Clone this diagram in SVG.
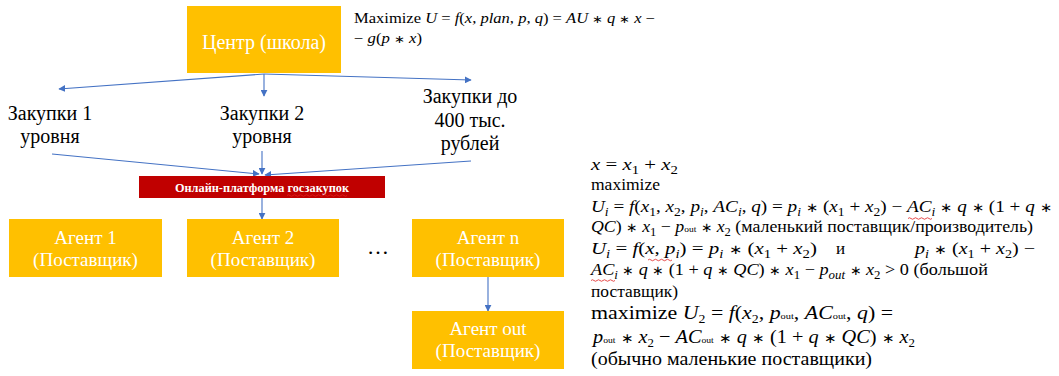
<svg xmlns="http://www.w3.org/2000/svg" width="1059" height="376" viewBox="0 0 1059 376" font-family="Liberation Serif, Times New Roman, serif">
<style>
text{font-family:'Liberation Serif','Times New Roman',serif}
.box{fill:#FFC000}
.bt{font-size:19px;fill:#fff;text-anchor:middle}
.lbl{font-size:20px;fill:#000;text-anchor:middle}
.m{font-size:17px;fill:#000}
.i{font-style:italic}
.s{font-size:12px}
.t{font-size:9px}
.a{font-size:0.75em}
.c{stroke:#4472C4;stroke-width:1.1;fill:none;marker-end:url(#ah)}
.w{stroke:#E02020;stroke-width:0.8;fill:none}
</style>
<defs>
<marker id="ah" viewBox="0 0 10 10" refX="9" refY="5" markerWidth="7" markerHeight="7" markerUnits="userSpaceOnUse" orient="auto">
<path d="M0,0 L10,5 L0,10 z" fill="#4472C4"/>
</marker>
</defs>

<g id="connectors">
<line class="c" x1="264" y1="74" x2="59" y2="89"/>
<line class="c" x1="264" y1="74" x2="264" y2="96"/>
<line class="c" x1="264" y1="74" x2="471" y2="80"/>
<line class="c" x1="52" y1="154" x2="259" y2="174"/>
<line class="c" x1="262" y1="151" x2="262" y2="174"/>
<line class="c" x1="471" y1="161" x2="265" y2="175"/>
<line class="c" x1="262" y1="198" x2="262" y2="219"/>
<line class="c" x1="488" y1="277" x2="488" y2="311"/>
</g>

<g id="center">
<rect class="box" x="187" y="6" width="154" height="67"/>
<text class="bt" x="264" y="49" style="font-size:20px">Центр (школа)</text>
</g>

<g id="formula-top">
<text class="m" x="354" y="23" style="font-size:14px" textLength="301" lengthAdjust="spacingAndGlyphs">Maximize <tspan class="i">U</tspan> = <tspan class="i">f</tspan>(<tspan class="i">x</tspan>, <tspan class="i">plan</tspan>, <tspan class="i">p</tspan>, <tspan class="i">q</tspan>) =  <tspan class="i">AU</tspan> <tspan class="a">∗</tspan> <tspan class="i">q</tspan> <tspan class="a">∗</tspan> <tspan class="i">x</tspan> −</text>
<text class="m" x="354" y="43" style="font-size:14px" textLength="68" lengthAdjust="spacingAndGlyphs">− <tspan class="i">g</tspan>(<tspan class="i">p</tspan> <tspan class="a">∗</tspan> <tspan class="i">x</tspan>)</text>
</g>

<g id="zakupki1">
<text class="lbl" x="50" y="120">Закупки 1</text>
<text class="lbl" x="50" y="143">уровня</text>
</g>
<g id="zakupki2">
<text class="lbl" x="262" y="120">Закупки 2</text>
<text class="lbl" x="262" y="143">уровня</text>
</g>
<g id="zakupki400">
<text class="lbl" x="470" y="103">Закупки до</text>
<text class="lbl" x="470" y="127">400 тыс.</text>
<text class="lbl" x="470" y="150">рублей</text>
</g>

<g id="platform">
<rect x="139" y="176" width="246" height="22" fill="#C00000"/>
<text x="262" y="192" font-size="12" font-weight="bold" fill="#fff" text-anchor="middle" textLength="174" lengthAdjust="spacingAndGlyphs">Онлайн-платформа госзакупок</text>
<path class="w" d="M287,195.5 q1.5,-1.5 3,0 t3,0 t3,0 t3,0 t3,0 t3,0 t3,0 t3,0 t3,0 t3,0 t3,0 t3,0 t3,0 t3,0 t3,0 t3,0 t3,0 t3,0 t3,0 t3,0"/>
</g>

<g id="agent1">
<rect class="box" x="9" y="219" width="153" height="58"/>
<text class="bt" x="85.5" y="244">Агент 1</text>
<text class="bt" x="85.5" y="266">(Поставщик)</text>
</g>
<g id="agent2">
<rect class="box" x="187" y="219" width="152" height="58"/>
<text class="bt" x="263" y="244">Агент 2</text>
<text class="bt" x="263" y="266">(Поставщик)</text>
</g>
<g id="dots">
<text x="367" y="254" font-size="22" fill="#000" textLength="25" lengthAdjust="spacing">…</text>
</g>
<g id="agentn">
<rect class="box" x="412" y="219" width="152" height="58"/>
<text class="bt" x="488" y="244">Агент n</text>
<text class="bt" x="488" y="266">(Поставщик)</text>
</g>
<g id="agentout">
<rect class="box" x="412" y="311" width="152" height="58"/>
<text class="bt" x="488" y="335">Агент out</text>
<text class="bt" x="488" y="357">(Поставщик)</text>
</g>

<g id="formulas-right">
<text class="m" x="591" y="170" textLength="87" lengthAdjust="spacingAndGlyphs"><tspan class="i">x</tspan> = <tspan class="i">x</tspan><tspan class="s" dy="4">1</tspan><tspan dy="-4"> + </tspan><tspan class="i">x</tspan><tspan class="s" dy="4">2</tspan></text>
<text class="m" x="591" y="190" textLength="69" lengthAdjust="spacingAndGlyphs">maximize</text>
<text class="m" x="591" y="212" textLength="461" lengthAdjust="spacingAndGlyphs"><tspan class="i">U</tspan><tspan class="s i" dy="4">i</tspan><tspan dy="-4"> = </tspan><tspan class="i">f</tspan>(<tspan class="i">x</tspan><tspan class="s" dy="4">1</tspan><tspan dy="-4">, </tspan><tspan class="i">x</tspan><tspan class="s" dy="4">2</tspan><tspan dy="-4">, </tspan><tspan class="i">p</tspan><tspan class="s i" dy="4">i</tspan><tspan dy="-4">, </tspan><tspan class="i">AC</tspan><tspan class="s i" dy="4">i</tspan><tspan dy="-4">, </tspan><tspan class="i">q</tspan>) =  <tspan class="i">p</tspan><tspan class="s i" dy="4">i</tspan><tspan dy="-4"> </tspan><tspan class="a">∗</tspan> (<tspan class="i">x</tspan><tspan class="s" dy="4">1</tspan><tspan dy="-4"> + </tspan><tspan class="i">x</tspan><tspan class="s" dy="4">2</tspan><tspan dy="-4">) − </tspan><tspan class="i">AC</tspan><tspan class="s i" dy="4">i</tspan><tspan dy="-4"> </tspan><tspan class="a">∗</tspan> <tspan class="i">q</tspan> <tspan class="a">∗</tspan> (1 + <tspan class="i">q</tspan> <tspan class="a">∗</tspan></text>
<path class="w" d="M908,218.5 q1.5,-1.5 3,0 t3,0 t3,0 t3,0 t3,0 t3,0 t3,0 t3,0"/>
<text class="m" x="591" y="232" textLength="442" lengthAdjust="spacingAndGlyphs"><tspan class="i">QC</tspan>) <tspan class="a">∗</tspan> <tspan class="i">x</tspan><tspan class="s" dy="4">1</tspan><tspan dy="-4"> − </tspan><tspan class="i">p</tspan><tspan class="t">out</tspan> <tspan class="a">∗</tspan> <tspan class="i">x</tspan><tspan class="s" dy="4">2</tspan><tspan dy="-4"> (маленький поставщик/производитель)</tspan></text>
<text class="m" x="591" y="254" textLength="226" lengthAdjust="spacingAndGlyphs"><tspan class="i">U</tspan><tspan class="s i" dy="4">i</tspan><tspan dy="-4"> = </tspan><tspan class="i">f</tspan>(<tspan class="i">x</tspan>, <tspan class="i">p</tspan><tspan class="s i" dy="4">i</tspan><tspan dy="-4">) =  </tspan><tspan class="i">p</tspan><tspan class="s i" dy="4">i</tspan><tspan dy="-4"> </tspan><tspan class="a">∗</tspan> (<tspan class="i">x</tspan><tspan class="s" dy="4">1</tspan><tspan dy="-4"> + </tspan><tspan class="i">x</tspan><tspan class="s" dy="4">2</tspan><tspan dy="-4">)</tspan></text>
<path class="w" d="M648,260 q1.5,-1.5 3,0 t3,0 t3,0 t3,0 t3,0 t3,0 t3,0 t3,0"/>
<text class="m" x="836" y="254">и</text>
<text class="m" x="915" y="254" textLength="120" lengthAdjust="spacingAndGlyphs"><tspan class="i">p</tspan><tspan class="s i" dy="4">i</tspan><tspan dy="-4"> </tspan><tspan class="a">∗</tspan> (<tspan class="i">x</tspan><tspan class="s" dy="4">1</tspan><tspan dy="-4"> + </tspan><tspan class="i">x</tspan><tspan class="s" dy="4">2</tspan><tspan dy="-4">) −</tspan></text>
<text class="m" x="591" y="275" textLength="397" lengthAdjust="spacingAndGlyphs"><tspan class="i">AC</tspan><tspan class="s i" dy="4">i</tspan><tspan dy="-4"> </tspan><tspan class="a">∗</tspan> <tspan class="i">q</tspan> <tspan class="a">∗</tspan> (1 + <tspan class="i">q</tspan> <tspan class="a">∗</tspan> <tspan class="i">QC</tspan>) <tspan class="a">∗</tspan> <tspan class="i">x</tspan><tspan class="s" dy="4">1</tspan><tspan dy="-4"> − </tspan><tspan class="i">p</tspan><tspan class="s i" dy="4">out</tspan><tspan dy="-4"> </tspan><tspan class="a">∗</tspan> <tspan class="i">x</tspan><tspan class="s" dy="4">2</tspan><tspan dy="-4"> &gt; 0 (большой</tspan></text>
<path class="w" d="M591,280.5 q1.5,-1.5 3,0 t3,0 t3,0 t3,0 t3,0 t3,0 t3,0 t3,0"/>
<text class="m" x="591" y="297" textLength="87" lengthAdjust="spacingAndGlyphs">поставщик)</text>
<text class="m" x="591" y="319" style="font-size:19px" textLength="302" lengthAdjust="spacingAndGlyphs">maximize <tspan class="i">U</tspan><tspan class="s" dy="4">2</tspan><tspan dy="-4"> = </tspan><tspan class="i">f</tspan>(<tspan class="i">x</tspan><tspan class="s" dy="4">2</tspan><tspan dy="-4">, </tspan><tspan class="i">p</tspan><tspan class="t">out</tspan>, <tspan class="i">AC</tspan><tspan class="t">out</tspan>, <tspan class="i">q</tspan>) =</text>
<text class="m" x="593" y="343" style="font-size:19px" textLength="322" lengthAdjust="spacingAndGlyphs"><tspan class="i">p</tspan><tspan class="t">out</tspan> <tspan class="a">∗</tspan> <tspan class="i">x</tspan><tspan class="s" dy="4">2</tspan><tspan dy="-4"> − </tspan><tspan class="i">AC</tspan><tspan class="t">out</tspan> <tspan class="a">∗</tspan> <tspan class="i">q</tspan> <tspan class="a">∗</tspan> (1 + <tspan class="i">q</tspan> <tspan class="a">∗</tspan> <tspan class="i">QC</tspan>) <tspan class="a">∗</tspan> <tspan class="i">x</tspan><tspan class="s" dy="4">2</tspan></text>
<text class="m" x="591" y="365" style="font-size:19px" textLength="281" lengthAdjust="spacingAndGlyphs">(обычно маленькие поставщики)</text>
</g>
</svg>
